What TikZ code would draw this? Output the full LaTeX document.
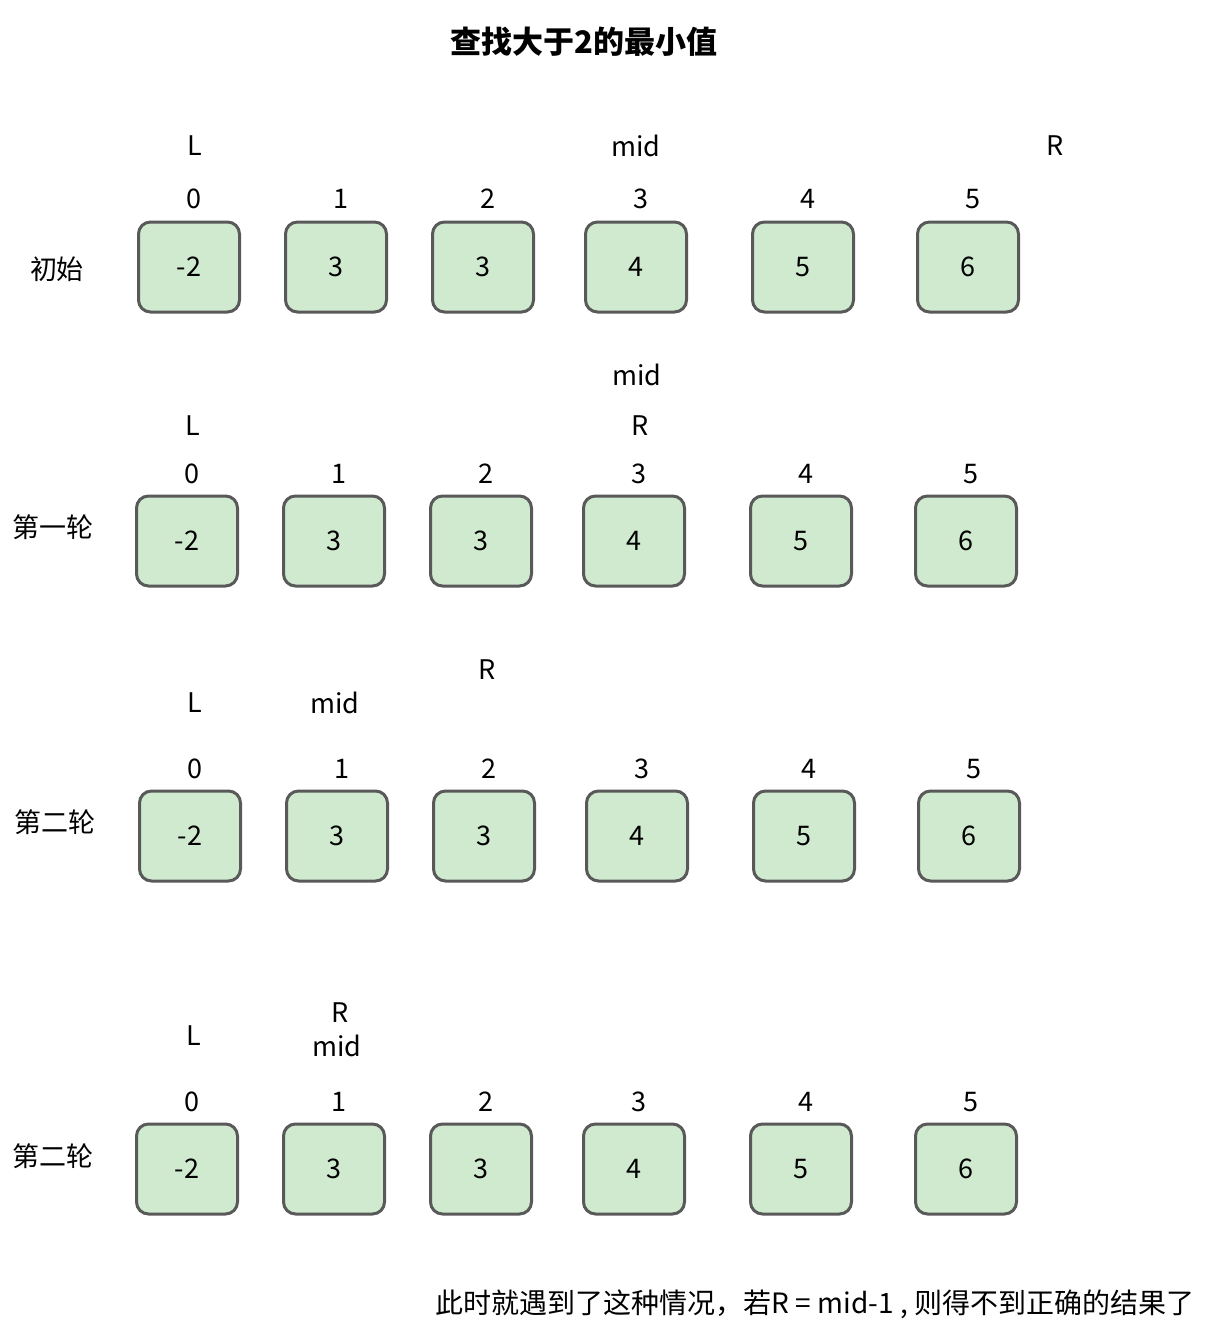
\documentclass[tikz,border=0pt]{standalone}
\usepackage{fontspec}
\setmainfont{Noto Sans CJK SC}
\begin{document}
\begin{tikzpicture}[x=1pt,y=-1pt,
  box/.style={draw=black!65,line width=3pt,fill={rgb,255:red,208;green,234;blue,208},rounded corners=12pt,minimum width=101pt,minimum height=90pt,inner sep=0pt,font=\fontsize{27}{32}\selectfont},
  lab/.style={inner sep=0pt,font=\fontsize{27}{32}\selectfont}]
\useasboundingbox (0,0) rectangle (1213,1339);
\node[lab,font=\fontsize{31}{36}\selectfont\bfseries] (title) at (584,42) {查找大于2的最小值};
\def\vals{{"-2","3","3","4","5","6"}}
\foreach \r/\y/\dx/\iy in {a/267/0/199, b/541/-2/474, c/836/1/769, d/1169/-2/1102}{
  \foreach \x [count=\i from 0] in {189,336,483,636,803,968}{
    \pgfmathsetmacro\v{\vals[\i]}
    \node[box] (\r\i) at (\x+\dx,\y) {\v};
    \node[lab] (\r i\i) at (\x+\dx+5,\iy) {\i};
  }
}
\node[lab] (rla) at (57,269) {初始};
\node[lab] (rlb) at (53,527) {第一轮};
\node[lab] (rlc) at (55,822) {第二轮};
\node[lab] (rld) at (53,1156) {第二轮};
\node[lab] (aL) at (195,146) {L};
\node[lab] (aM) at (636,146) {mid};
\node[lab] (aR) at (1055,146) {R};
\node[lab] (bM) at (637,375) {mid};
\node[lab] (bL) at (193,426) {L};
\node[lab] (bR) at (640,426) {R};
\node[lab] (cR) at (487,670) {R};
\node[lab] (cL) at (195,703) {L};
\node[lab] (cM) at (335,703) {mid};
\node[lab] (dR) at (340,1013) {R};
\node[lab] (dM) at (337,1046) {mid};
\node[lab] (dL) at (194,1036) {L};
\node[lab,font=\fontsize{28}{32}\selectfont] (note) at (815,1304) {此时就遇到了这种情况，若R~=~mid-1~,~则得不到正确的结果了};
\end{tikzpicture}
\end{document}
